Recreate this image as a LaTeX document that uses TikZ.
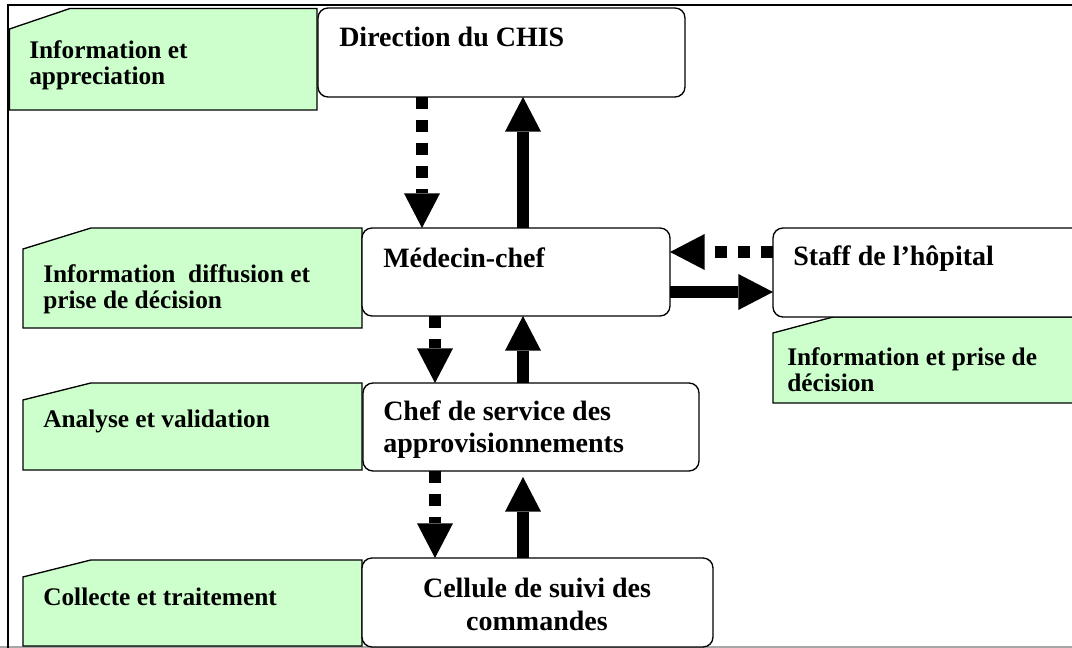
\documentclass[tikz,border=0pt]{standalone}
\usepackage{fontspec}
\setmainfont{Liberation Serif}
\usetikzlibrary{arrows.meta}
\definecolor{paleGreen}{HTML}{CCFFCC}
\begin{document}
\begin{tikzpicture}[x=0.75pt, y=-0.75pt,
  mainbox/.style={draw, line width=1pt, rounded corners=7.5pt, fill=white,
    inner sep=0pt, outer sep=0pt},
  maintext/.style={anchor=base west, inner sep=0pt, align=left,
    font=\fontsize{21}{24.4}\selectfont\bfseries},
  tagshape/.style={draw, line width=1pt, fill=paleGreen},
  tagtext/.style={anchor=base west, inner sep=0pt, align=left,
    font=\fontsize{19}{19.5}\selectfont\bfseries},
  arr/.style={line width=9pt,
    -{Triangle[length=26pt, width=27pt, line width=0pt]}},
  darr/.style={arr, dash pattern=on 9pt off 8.25pt}]

\useasboundingbox (0,0) rectangle (1072,648);
\clip (0,0) rectangle (1072,648);
\fill[white] (0,0) rectangle (1072,648);

% page edge and frame
\draw[gray!70, line width=0.9pt] (0,647) -- (1072,647);
\draw[line width=1.5pt] (7.5,648) -- (7.5,5.5) -- (1072,5.5);

% green activity tags (chamfered top-left corner)
\draw[tagshape] (9.5,110) -- (9.5,29) -- (70,8.5) -- (317,8.5) -- (317,110) -- cycle;
\draw[tagshape] (23,328) -- (23,249) -- (91,228) -- (362,228) -- (362,328) -- cycle;
\draw[tagshape] (773,403) -- (773,333) -- (833,317) -- (1095,317) -- (1095,403) -- cycle;
\draw[tagshape] (23,470) -- (23,400) -- (91,383) -- (362,383) -- (362,470) -- cycle;
\draw[tagshape] (23,646) -- (23,577) -- (91,560) -- (362,560) -- (362,646) -- cycle;

% actor boxes
\node[mainbox, minimum width=275.25pt, minimum height=66.75pt] (dir) at (501.5,52.5) {};
\node[mainbox, minimum width=231pt, minimum height=66pt] (med) at (516,272) {};
\node[mainbox, minimum width=240pt, minimum height=66.75pt] (staff) at (933,272.5) {};
\node[mainbox, minimum width=252pt, minimum height=66pt] (chef) at (531,427) {};
\node[mainbox, minimum width=263.25pt, minimum height=66.75pt] (cel) at (537.5,602.5) {};

% connector lanes
\coordinate (xa) at (422,0);
\coordinate (xb) at (435,0);
\coordinate (xc) at (523,0);
\coordinate (ya) at (0,252);
\coordinate (yb) at (0,292);

% flows: dashed = downward/incoming information, solid = reporting
\draw[darr] (dir.south -| xa) -- (med.north -| xa);
\draw[arr] (med.north -| xc) -- (dir.south -| xc);
\draw[darr] (staff.west |- ya) -- (med.east |- ya);
\draw[arr] (med.east |- yb) -- (staff.west |- yb);
\draw[darr] (med.south -| xb) -- (chef.north -| xb);
\draw[arr] (chef.north -| xc) -- (med.south -| xc);
\draw[darr] (chef.south -| xb) -- (cel.north -| xb);
\draw[arr, shorten >=4.5pt] (cel.north -| xc) -- (chef.south -| xc);

% labels (multi-line nodes are placed by the baseline of their last line)
\node[tagtext] (t1) at (29,85) {Information et\\appreciation};
\node[tagtext] (t2) at (43,309) {Information\ \ diffusion et\\prise de décision};
\node[tagtext] (t3) at (787,392) {Information et prise de\\décision};
\node[tagtext] (t4) at (43,428) {Analyse et validation};
\node[tagtext] (t5) at (43,605) {Collecte et traitement};

\node[maintext] (ldir) at (339,47) {Direction du CHIS};
\node[maintext] (lmed) at (383,268) {Médecin-chef};
\node[maintext] (lstaff) at (793,266) {Staff de l’hôpital};
\node[maintext] (lchef) at (383,453) {Chef de service des\\approvisionnements};
\node[maintext, anchor=base, align=center] (lcel) at (537,630) {Cellule de suivi des\\commandes};
\end{tikzpicture}
\end{document}
